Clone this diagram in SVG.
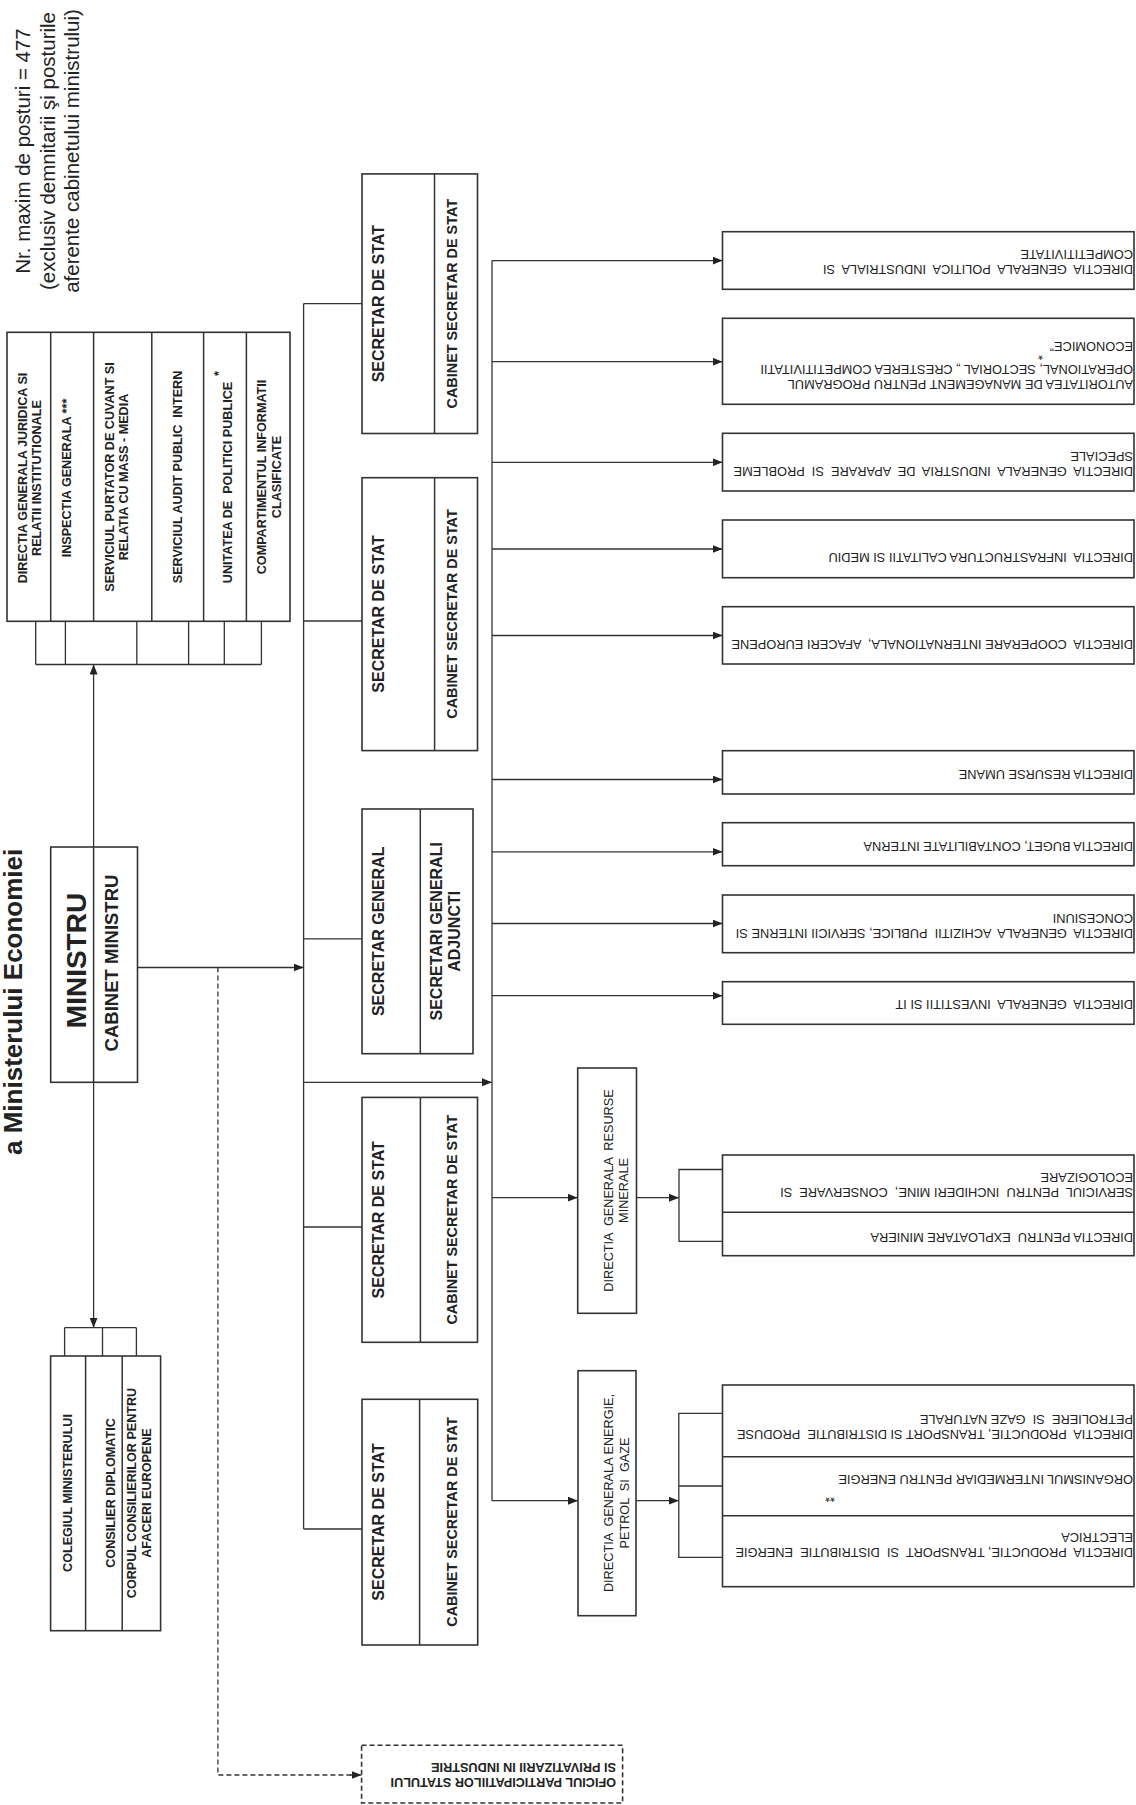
<svg xmlns="http://www.w3.org/2000/svg" width="1136" height="1805" viewBox="0 0 1136 1805">
<style>
.box{fill:#fff;stroke:#333;stroke-width:1.6}
.dv{fill:none;stroke:#333;stroke-width:1.5}
.ln{fill:none;stroke:#333;stroke-width:1.3}
.dash{stroke-dasharray:5 3}
.b{font-family:"Liberation Sans",Arial,sans-serif;font-weight:bold;fill:#222}
.r{font-family:"Liberation Sans",Arial,sans-serif;fill:#222}
.s{font-size:12.6px}
.rc{font-family:"Liberation Sans",Arial,sans-serif;fill:#222;font-size:12.8px;white-space:pre}
</style>
<defs>
<marker id="ah" viewBox="0 0 10 8" refX="10" refY="4" markerWidth="10" markerHeight="8" markerUnits="userSpaceOnUse" orient="auto"><path d="M0,0 L10,4 L0,8 z" fill="#222"/></marker>
</defs>
<rect width="1136" height="1805" fill="#fff"/>

<g id="header">
<text class="r" font-size="20.5" text-anchor="middle" transform="translate(30,151) rotate(-90)">Nr. maxim de posturi = 477</text>
<text class="r" font-size="20.5" text-anchor="middle" transform="translate(54.5,151) rotate(-90)">(exclusiv demnitarii şi posturile</text>
<text class="r" font-size="20.5" text-anchor="middle" transform="translate(79,151) rotate(-90)">aferente cabinetului ministrului)</text>
</g>
<g id="title">
<text class="b" font-size="26" transform="translate(22,1155) rotate(-90)">a Ministerului Economiei</text>
</g>

<g id="connectors">
<path class="ln" d="M35.7,621.2V664.5M65.4,621.2V664.5M136.8,621.2V664.5M188.6,621.2V664.5M224.3,621.2V664.5M261.4,621.2V664.5M35.7,664.5H261.4"/>
<line class="ln" x1="93.6" y1="847" x2="93.6" y2="664.5" marker-end="url(#ah)"/>
<line class="ln" x1="93.6" y1="1082.3" x2="93.6" y2="1327.7" marker-end="url(#ah)"/>
<path class="ln" d="M64.6,1327.7H136.4M64.6,1327.7V1356M102.5,1327.7V1356M136.4,1327.7V1356"/>
<line class="ln" x1="137.5" y1="967.5" x2="303.6" y2="967.5" marker-end="url(#ah)"/>
<path class="ln dash" d="M217.9,967.5V1775H352"/>
<line class="ln" x1="350" y1="1775" x2="361.6" y2="1775" marker-end="url(#ah)"/>
<path class="ln" d="M303.6,303.6V1529M303.6,303.6H362M303.6,621H362M303.6,938.8H362M303.6,1227H362M303.6,1529H362"/>
<line class="ln" x1="303.6" y1="1082.3" x2="492" y2="1082.3" marker-end="url(#ah)"/>
<path class="ln" d="M492,260.6V1500.7"/>
<line class="ln" x1="492" y1="260.6" x2="722.5" y2="260.6" marker-end="url(#ah)"/>
<line class="ln" x1="492" y1="361.7" x2="722.5" y2="361.7" marker-end="url(#ah)"/>
<line class="ln" x1="492" y1="462.3" x2="722.5" y2="462.3" marker-end="url(#ah)"/>
<line class="ln" x1="492" y1="549" x2="722.5" y2="549" marker-end="url(#ah)"/>
<line class="ln" x1="492" y1="635.5" x2="722.5" y2="635.5" marker-end="url(#ah)"/>
<line class="ln" x1="492" y1="779.5" x2="722.5" y2="779.5" marker-end="url(#ah)"/>
<line class="ln" x1="492" y1="851.8" x2="722.5" y2="851.8" marker-end="url(#ah)"/>
<line class="ln" x1="492" y1="923.5" x2="722.5" y2="923.5" marker-end="url(#ah)"/>
<line class="ln" x1="492" y1="995.7" x2="722.5" y2="995.7" marker-end="url(#ah)"/>
<line class="ln" x1="492" y1="1197.7" x2="577.7" y2="1197.7" marker-end="url(#ah)"/>
<line class="ln" x1="492" y1="1500.7" x2="578" y2="1500.7" marker-end="url(#ah)"/>
<line class="ln" x1="636.5" y1="1197.7" x2="679" y2="1197.7" marker-end="url(#ah)"/>
<path class="ln" d="M722.5,1169.5H679V1241.3H722.5"/>
<line class="ln" x1="636" y1="1500.7" x2="678.8" y2="1500.7" marker-end="url(#ah)"/>
<path class="ln" d="M722.5,1413.3H678.8V1557.3H722.5M678.8,1486H722.5"/>
</g>

<g id="staff">
<rect class="box" x="7" y="332.3" width="283" height="289"/>
<path class="dv" d="M50.7,332.3V621.2M93.6,332.3V621.2M151.8,332.3V621.2M203.6,332.3V621.2M246.4,332.3V621.2"/>
<text class="b s" text-anchor="middle" transform="translate(27,478) rotate(-90)"><tspan x="0" y="0">DIRECTIA GENERALA JURIDICA SI</tspan><tspan x="0" dy="14">RELATII INSTITUTIONALE</tspan></text>
<text class="b s" text-anchor="middle" transform="translate(70.5,478) rotate(-90)">INSPECTIA GENERALA ***</text>
<text class="b s" text-anchor="middle" transform="translate(113.5,477) rotate(-90)"><tspan x="0" y="0">SERVICIUL PURTATOR DE CUVANT SI</tspan><tspan x="0" dy="14.5">RELATIA CU MASS - MEDIA</tspan></text>
<text class="b s" text-anchor="middle" transform="translate(181.5,477) rotate(-90)" xml:space="preserve">SERVICIUL AUDIT PUBLIC  INTERN</text>
<text class="b s" text-anchor="middle" transform="translate(232,482.5) rotate(-90)" xml:space="preserve">UNITATEA DE  POLITICI PUBLICE</text>
<text class="b s" transform="translate(223,376) rotate(-90)">*</text>
<text class="b s" text-anchor="middle" transform="translate(266,477) rotate(-90)"><tspan x="0" y="0">COMPARTIMENTUL INFORMATII</tspan><tspan x="0" dy="14.5">CLASIFICATE</tspan></text>
</g>

<g id="ministru">
<rect class="box" x="50.7" y="847" width="86.8" height="235.3"/>
<line class="dv" x1="93.6" y1="847" x2="93.6" y2="1082.3"/>
<text class="b" font-size="28" text-anchor="middle" transform="translate(85.5,960.5) rotate(-90)">MINISTRU</text>
<text class="b" font-size="18.5" text-anchor="middle" transform="translate(117.5,963) rotate(-90)">CABINET MINISTRU</text>
</g>

<g id="colegiu">
<rect class="box" x="50.6" y="1356" width="110" height="274.7"/>
<path class="dv" d="M85.6,1356V1630.7M122.2,1356V1630.7"/>
<text class="b s" text-anchor="middle" transform="translate(71.5,1493) rotate(-90)">COLEGIUL MINISTERULUI</text>
<text class="b s" text-anchor="middle" transform="translate(115,1493) rotate(-90)">CONSILIER DIPLOMATIC</text>
<text class="b s" text-anchor="middle" transform="translate(136,1493) rotate(-90)"><tspan x="0" y="0">CORPUL CONSILIERILOR PENTRU</tspan><tspan x="0" dy="15">AFACERI EUROPENE</tspan></text>
</g>

<g id="sec1">
<rect class="box" x="362" y="173.9" width="115.5" height="259.6"/>
<line class="dv" x1="434.5" y1="173.9" x2="434.5" y2="433.5"/>
<text class="b" font-size="16" text-anchor="middle" transform="translate(383.5,303.7) rotate(-90)">SECRETAR DE STAT</text>
<text class="b" font-size="14.4" text-anchor="middle" transform="translate(456.5,303.7) rotate(-90)">CABINET SECRETAR DE STAT</text>
</g>
<g id="sec2">
<rect class="box" x="362" y="477.7" width="115.5" height="272.9"/>
<line class="dv" x1="434.6" y1="477.7" x2="434.6" y2="750.6"/>
<text class="b" font-size="16" text-anchor="middle" transform="translate(383.5,614) rotate(-90)">SECRETAR DE STAT</text>
<text class="b" font-size="14.4" text-anchor="middle" transform="translate(456.5,614) rotate(-90)">CABINET SECRETAR DE STAT</text>
</g>
<g id="secgen">
<rect class="box" x="362" y="809" width="111" height="244.7"/>
<line class="dv" x1="420.3" y1="809" x2="420.3" y2="1053.7"/>
<text class="b" font-size="16" text-anchor="middle" transform="translate(383.5,931.3) rotate(-90)">SECRETAR GENERAL</text>
<text class="b" font-size="16" text-anchor="middle" transform="translate(441.5,931.3) rotate(-90)"><tspan x="0" y="0">SECRETARI GENERALI</tspan><tspan x="0" dy="18">ADJUNCTI</tspan></text>
</g>
<g id="sec3">
<rect class="box" x="362" y="1097.4" width="115.5" height="244.9"/>
<line class="dv" x1="420.4" y1="1097.4" x2="420.4" y2="1342.3"/>
<text class="b" font-size="16" text-anchor="middle" transform="translate(384,1219.8) rotate(-90)">SECRETAR DE STAT</text>
<text class="b" font-size="14.4" text-anchor="middle" transform="translate(457,1219.8) rotate(-90)">CABINET SECRETAR DE STAT</text>
</g>
<g id="sec4">
<rect class="box" x="362" y="1399.3" width="115.7" height="245.7"/>
<line class="dv" x1="419.6" y1="1399.3" x2="419.6" y2="1645"/>
<text class="b" font-size="16" text-anchor="middle" transform="translate(384,1522) rotate(-90)">SECRETAR DE STAT</text>
<text class="b" font-size="14.4" text-anchor="middle" transform="translate(457,1522) rotate(-90)">CABINET SECRETAR DE STAT</text>
</g>

<g id="oficiul">
<rect class="box dash" x="361.6" y="1745.3" width="261" height="57.7"/>
<text class="b" font-size="12.7" transform="translate(616,1778) rotate(180)">OFICIUL PARTICIPATIILOR STATULUI</text>
<text class="b" font-size="12.7" transform="translate(616,1763) rotate(180)">SI PRIVATIZARII IN INDUSTRIE</text>
</g>

<g id="dg-resurse">
<rect class="box" x="577.7" y="1068" width="58.8" height="245.3"/>
<text class="r" font-size="12.7" text-anchor="middle" transform="translate(613,1190.5) rotate(-90)" xml:space="preserve"><tspan x="0" y="0">DIRECTIA  GENERALA  RESURSE</tspan><tspan x="0" dy="15">MINERALE</tspan></text>
</g>
<g id="dg-energie">
<rect class="box" x="578" y="1370.7" width="58" height="245"/>
<text class="r" font-size="12.7" text-anchor="middle" transform="translate(613,1493) rotate(-90)" xml:space="preserve"><tspan x="0" y="0">DIRECTIA  GENERALA ENERGIE,</tspan><tspan x="0" dy="16">PETROL  SI  GAZE</tspan></text>
</g>

<g id="d1"><rect class="box" x="722.5" y="231.7" width="411.5" height="57.6"/>
<text class="rc" xml:space="preserve" transform="translate(1133,265) rotate(180)">DIRECTIA  GENERALA  POLITICA  INDUSTRIALA  SI</text>
<text class="rc" transform="translate(1133,250) rotate(180)">COMPETITIVITATE</text></g>
<g id="d2"><rect class="box" x="722.5" y="318.3" width="411.5" height="86"/>
<text class="rc" transform="translate(1133,380) rotate(180)">AUTORITATEA DE MANAGEMENT PENTRU PROGRAMUL</text>
<text class="rc" transform="translate(1133,365) rotate(180)">OPERATIONAL, SECTORIAL „ CRESTEREA COMPETITIVITATII</text>
<text class="rc" transform="translate(1133,341.7) rotate(180)">ECONOMICE”</text>
<text class="rc" transform="translate(1043,351) rotate(180)">*</text></g>
<g id="d3"><rect class="box" x="722.5" y="433.3" width="411.5" height="57.7"/>
<text class="rc" xml:space="preserve" transform="translate(1133,466.7) rotate(180)">DIRECTIA  GENERALA  INDUSTRIA  DE  APARARE  SI  PROBLEME</text>
<text class="rc" transform="translate(1133,451.7) rotate(180)">SPECIALE</text></g>
<g id="d4"><rect class="box" x="722.5" y="520" width="411.5" height="57.7"/>
<text class="rc" xml:space="preserve" transform="translate(1133,553.3) rotate(180)">DIRECTIA  INFRASTRUCTURA CALITATII SI MEDIU</text></g>
<g id="d5"><rect class="box" x="722.5" y="606.7" width="411.5" height="57.3"/>
<text class="rc" xml:space="preserve" transform="translate(1133,640) rotate(180)">DIRECTIA  COOPERARE INTERNATIONALA,  AFACERI EUROPENE</text></g>
<g id="d6"><rect class="box" x="722.5" y="750.7" width="411.5" height="43.3"/>
<text class="rc" transform="translate(1133,770) rotate(180)">DIRECTIA RESURSE UMANE</text></g>
<g id="d7"><rect class="box" x="722.5" y="822.7" width="411.5" height="43"/>
<text class="rc" transform="translate(1133,841.7) rotate(180)">DIRECTIA BUGET, CONTABILITATE INTERNA</text></g>
<g id="d8"><rect class="box" x="722.5" y="895" width="411.5" height="57.7"/>
<text class="rc" xml:space="preserve" transform="translate(1133,929) rotate(180)">DIRECTIA  GENERALA  ACHIZITII  PUBLICE, SERVICII INTERNE SI</text>
<text class="rc" transform="translate(1133,913.5) rotate(180)">CONCESIUNI</text></g>
<g id="d9"><rect class="box" x="722.5" y="981.7" width="411.5" height="42.6"/>
<text class="rc" xml:space="preserve" transform="translate(1133,1000) rotate(180)">DIRECTIA  GENERALA  INVESTITII SI IT</text></g>

<g id="mine">
<rect class="box" x="722.5" y="1155" width="411.5" height="100.7"/>
<line class="dv" x1="722.5" y1="1212.3" x2="1134" y2="1212.3"/>
<text class="rc" xml:space="preserve" transform="translate(1133,1188) rotate(180)">SERVICIUL  PENTRU  INCHIDERI MINE,  CONSERVARE  SI</text>
<text class="rc" transform="translate(1133,1173) rotate(180)">ECOLOGIZARE</text>
<text class="rc" xml:space="preserve" transform="translate(1133,1233) rotate(180)">DIRECTIA PENTRU  EXPLOATARE MINIERA</text>
</g>

<g id="energie">
<rect class="box" x="722.5" y="1385" width="411.5" height="201.7"/>
<path class="dv" d="M722.5,1456.7H1134M722.5,1515.7H1134"/>
<text class="rc" xml:space="preserve" transform="translate(1133,1430) rotate(180)">DIRECTIA  PRODUCTIE, TRANSPORT SI DISTRIBUTIE  PRODUSE</text>
<text class="rc" xml:space="preserve" transform="translate(1133,1415) rotate(180)">PETROLIERE  SI  GAZE NATURALE</text>
<text class="rc" transform="translate(1133,1475) rotate(180)">ORGANISMUL INTERMEDIAR PENTRU ENERGIE</text>
<text class="rc" transform="translate(835,1493) rotate(180)">**</text>
<text class="rc" xml:space="preserve" transform="translate(1133,1548) rotate(180)">DIRECTIA  PRODUCTIE, TRANSPORT  SI  DISTRIBUTIE  ENERGIE</text>
<text class="rc" transform="translate(1133,1533) rotate(180)">ELECTRICA</text>
</g>
</svg>
